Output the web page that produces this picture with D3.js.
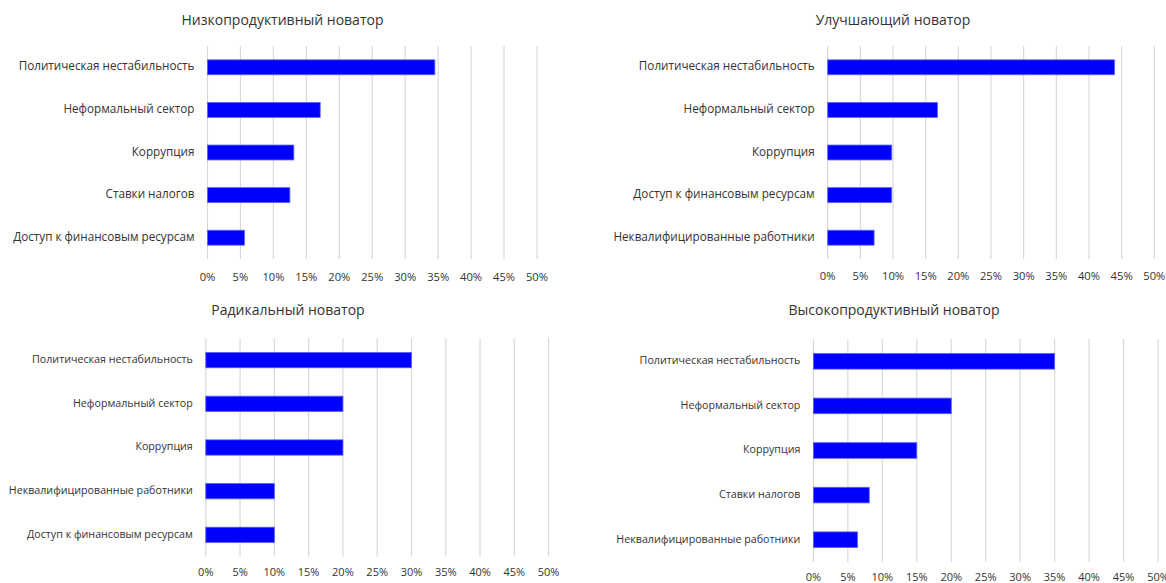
<!DOCTYPE html>
<html>
<head>
<meta charset="utf-8">
<script src="https://cdn.jsdelivr.net/npm/d3@7"></script>
<style>
  html, body { margin: 0; padding: 0; background: #fff; }
  svg { display: block; font-family: "Open Sans", "Noto Sans", sans-serif; }
</style>
</head>
<body>
<svg id="chart" width="1166" height="583"></svg>
<script>
// Barriers to innovation by innovator type (share of respondents)
const titles = [
  "Низкопродуктивный новатор",
  "Улучшающий новатор",
  "Радикальный новатор",
  "Высокопродуктивный новатор"
];

const lowProdCategories = ["Политическая нестабильность", "Неформальный сектор", "Коррупция", "Ставки налогов", "Доступ к финансовым ресурсам"];
const lowProdValues = [34.5, 17.1, 13.1, 12.5, 5.6];

const improvingCategories = ["Политическая нестабильность", "Неформальный сектор", "Коррупция", "Доступ к финансовым ресурсам", "Неквалифицированные работники"];
const improvingValues = [43.9, 16.8, 9.8, 9.8, 7.1];

const radicalCategories = ["Политическая нестабильность", "Неформальный сектор", "Коррупция", "Неквалифицированные работники", "Доступ к финансовым ресурсам"];
const radicalValues = [30, 20, 20, 10, 10];

const highProdCategories = ["Политическая нестабильность", "Неформальный сектор", "Коррупция", "Ставки налогов", "Неквалифицированные работники"];
const highProdValues = [35, 20, 15, 8.1, 6.4];

const tickValues = [0, 5, 10, 15, 20, 25, 30, 35, 40, 45, 50];
const tickLabels = ["0%", "5%", "10%", "15%", "20%", "25%", "30%", "35%", "40%", "45%", "50%"];

const seriesData = [
  { title: titles[0], categories: lowProdCategories, values: lowProdValues },
  { title: titles[1], categories: improvingCategories, values: improvingValues },
  { title: titles[2], categories: radicalCategories, values: radicalValues },
  { title: titles[3], categories: highProdCategories, values: highProdValues }
];

// Panel geometry: plot area extents, title anchor, tick label baseline and font sizes
const layout = [
  { x: [207.5, 537], y: [46, 259], tx: 282.5, ty: 21, tickY: 278, catSize: 11.7, titleSize: 14, tickSize: 11.2 },
  { x: [827.7, 1154.3], y: [46, 259], tx: 893, ty: 21, tickY: 277, catSize: 11.7, titleSize: 14, tickSize: 11.2 },
  { x: [205.8, 548.6], y: [338.3, 556.7], tx: 288, ty: 311, tickY: 573.5, catSize: 10.7, titleSize: 14, tickSize: 11 },
  { x: [813.4, 1158], y: [339, 562], tx: 894, ty: 311, tickY: 578.5, catSize: 10.7, titleSize: 14, tickSize: 11 }
];

const textColor = "#333333";
const gridColor = "#d9d9d9";
const barColor = "#0000ff";

const svg = d3.select("#chart");

seriesData.forEach((s, i) => {
  const L = layout[i];
  const g = svg.append("g");

  const x = d3.scaleLinear().domain([0, 50]).range(L.x);
  const y = d3.scaleBand()
    .domain(s.categories)
    .range(L.y)
    .paddingInner(0.65)
    .paddingOuter(0.325);

  // vertical gridlines
  g.append("g")
    .selectAll("line")
    .data(tickValues)
    .join("line")
    .attr("x1", d => x(d))
    .attr("x2", d => x(d))
    .attr("y1", L.y[0])
    .attr("y2", L.y[1])
    .attr("stroke", gridColor)
    .attr("stroke-width", 1.2);

  // tick labels
  g.append("g")
    .selectAll("text")
    .data(tickValues)
    .join("text")
    .attr("x", d => x(d))
    .attr("y", L.tickY)
    .attr("text-anchor", "middle")
    .attr("dominant-baseline", "middle")
    .attr("font-size", L.tickSize)
    .attr("fill", textColor)
    .text((d, k) => tickLabels[k]);

  // bars
  g.append("g")
    .selectAll("rect")
    .data(s.values)
    .join("rect")
    .attr("x", x(0))
    .attr("y", (d, k) => y(s.categories[k]))
    .attr("width", d => x(d) - x(0))
    .attr("height", y.bandwidth())
    .attr("fill", barColor)
    .attr("stroke", "#5c5cff")
    .attr("stroke-width", 0.8);

  // category labels
  g.append("g")
    .selectAll("text")
    .data(s.categories)
    .join("text")
    .attr("x", x(0) - 13)
    .attr("y", d => y(d) + y.bandwidth() / 2)
    .attr("text-anchor", "end")
    .attr("dominant-baseline", "middle")
    .attr("font-size", L.catSize)
    .attr("fill", textColor)
    .text(d => d);

  // panel title
  g.append("text")
    .attr("x", L.tx)
    .attr("y", L.ty)
    .attr("text-anchor", "middle")
    .attr("dominant-baseline", "middle")
    .attr("font-size", L.titleSize)
    .attr("fill", textColor)
    .text(s.title);
});
</script>
</body>
</html>
